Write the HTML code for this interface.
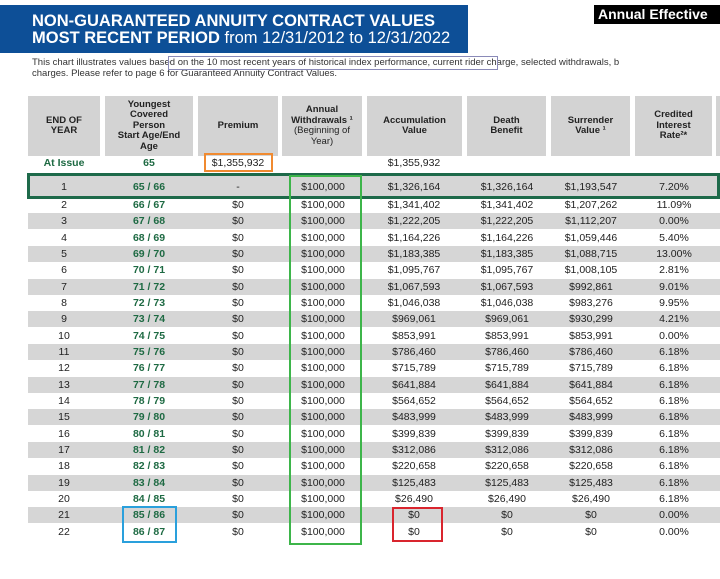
<!DOCTYPE html>
<html><head><style>
body{margin:0;width:720px;height:579px;background:#fff;position:relative;overflow:hidden;font-family:"Liberation Sans",Arial,sans-serif}
.a{position:absolute}
.title{left:0;top:5px;width:468px;height:48px;background:#0d4f97;color:#fff;font-weight:bold;font-size:16.5px;line-height:17px;padding:8px 0 0 32px;box-sizing:border-box;}
.hd{top:96px;height:60px;background:#d3d3d3;font-weight:bold;font-size:9.5px;line-height:10.5px;color:#222;display:flex;align-items:center;justify-content:center;text-align:center}
.row{left:28px;width:692px;height:16px;font-size:10.5px;color:#222}
.row span{position:absolute;top:2px;transform:translateX(-50%);white-space:nowrap}
.g{background:#d6d6d6}
.gr{color:#1e6a43;font-weight:bold}
.box{position:absolute;box-sizing:border-box}
</style></head><body>
<div class="a title">NON-GUARANTEED ANNUITY CONTRACT VALUES<br>MOST RECENT PERIOD <span style="font-weight:normal">from 12/31/2012 to 12/31/2022</span></div>
<div class="a" style="left:594px;top:5px;width:126px;height:19px;background:#000;color:#fff;font-weight:bold;font-size:14px;line-height:19px;padding-left:4px;box-sizing:border-box;white-space:nowrap;overflow:hidden">Annual Effective</div>
<div class="a" style="left:32px;top:57px;font-size:9.5px;color:#333;line-height:11px;white-space:nowrap">This chart illustrates values based on the 10 most recent years of historical index performance, current rider charge, selected withdrawals, b<br>charges. Please refer to page 6 for Guaranteed Annuity Contract Values.</div>
<div class="box" style="left:168px;top:56px;width:330px;height:14px;border:1px solid #8a8ab8"></div>

<div class="a hd" style="left:28px;width:72px"><div>END OF<br>YEAR</div></div>
<div class="a hd" style="left:105px;width:88px"><div>Youngest<br>Covered<br>Person<br>Start Age/End<br>Age</div></div>
<div class="a hd" style="left:198px;width:80px"><div>Premium</div></div>
<div class="a hd" style="left:282px;width:80px"><div>Annual<br>Withdrawals ¹<br><span style="font-weight:normal">(Beginning of<br>Year)</span></div></div>
<div class="a hd" style="left:367px;width:95px"><div>Accumulation<br>Value</div></div>
<div class="a hd" style="left:467px;width:79px"><div>Death<br>Benefit</div></div>
<div class="a hd" style="left:551px;width:79px"><div>Surrender<br>Value ¹</div></div>
<div class="a hd" style="left:635px;width:77px"><div>Credited<br>Interest<br>Rate²*</div></div>
<div class="a hd" style="left:716px;width:10px"></div>

<div class="a row" style="top:155px"><span class="gr" style="left:36px">At Issue</span><span class="gr" style="left:121px">65</span><span style="left:210px">$1,355,932</span><span style="left:386px">$1,355,932</span></div>

<div class="a row g" style="top:175px;height:22px"><span style="left:36px;top:6px">1</span><span class="gr" style="left:121px;top:6px">65 / 66</span><span style="left:210px;top:6px">-</span><span style="left:295px;top:6px">$100,000</span><span style="left:386px;top:6px">$1,326,164</span><span style="left:479px;top:6px">$1,326,164</span><span style="left:563px;top:6px">$1,193,547</span><span style="left:646px;top:6px">7.20%</span></div>
<div class="a row" style="top:197px"><span style="left:36px">2</span><span class="gr" style="left:121px">66 / 67</span><span style="left:210px">$0</span><span style="left:295px">$100,000</span><span style="left:386px">$1,341,402</span><span style="left:479px">$1,341,402</span><span style="left:563px">$1,207,262</span><span style="left:646px">11.09%</span></div>
<div class="a row g" style="top:213px"><span style="left:36px">3</span><span class="gr" style="left:121px">67 / 68</span><span style="left:210px">$0</span><span style="left:295px">$100,000</span><span style="left:386px">$1,222,205</span><span style="left:479px">$1,222,205</span><span style="left:563px">$1,112,207</span><span style="left:646px">0.00%</span></div>
<div class="a row" style="top:230px"><span style="left:36px">4</span><span class="gr" style="left:121px">68 / 69</span><span style="left:210px">$0</span><span style="left:295px">$100,000</span><span style="left:386px">$1,164,226</span><span style="left:479px">$1,164,226</span><span style="left:563px">$1,059,446</span><span style="left:646px">5.40%</span></div>
<div class="a row g" style="top:246px"><span style="left:36px">5</span><span class="gr" style="left:121px">69 / 70</span><span style="left:210px">$0</span><span style="left:295px">$100,000</span><span style="left:386px">$1,183,385</span><span style="left:479px">$1,183,385</span><span style="left:563px">$1,088,715</span><span style="left:646px">13.00%</span></div>
<div class="a row" style="top:262px"><span style="left:36px">6</span><span class="gr" style="left:121px">70 / 71</span><span style="left:210px">$0</span><span style="left:295px">$100,000</span><span style="left:386px">$1,095,767</span><span style="left:479px">$1,095,767</span><span style="left:563px">$1,008,105</span><span style="left:646px">2.81%</span></div>
<div class="a row g" style="top:279px"><span style="left:36px">7</span><span class="gr" style="left:121px">71 / 72</span><span style="left:210px">$0</span><span style="left:295px">$100,000</span><span style="left:386px">$1,067,593</span><span style="left:479px">$1,067,593</span><span style="left:563px">$992,861</span><span style="left:646px">9.01%</span></div>
<div class="a row" style="top:295px"><span style="left:36px">8</span><span class="gr" style="left:121px">72 / 73</span><span style="left:210px">$0</span><span style="left:295px">$100,000</span><span style="left:386px">$1,046,038</span><span style="left:479px">$1,046,038</span><span style="left:563px">$983,276</span><span style="left:646px">9.95%</span></div>
<div class="a row g" style="top:311px"><span style="left:36px">9</span><span class="gr" style="left:121px">73 / 74</span><span style="left:210px">$0</span><span style="left:295px">$100,000</span><span style="left:386px">$969,061</span><span style="left:479px">$969,061</span><span style="left:563px">$930,299</span><span style="left:646px">4.21%</span></div>
<div class="a row" style="top:328px"><span style="left:36px">10</span><span class="gr" style="left:121px">74 / 75</span><span style="left:210px">$0</span><span style="left:295px">$100,000</span><span style="left:386px">$853,991</span><span style="left:479px">$853,991</span><span style="left:563px">$853,991</span><span style="left:646px">0.00%</span></div>
<div class="a row g" style="top:344px"><span style="left:36px">11</span><span class="gr" style="left:121px">75 / 76</span><span style="left:210px">$0</span><span style="left:295px">$100,000</span><span style="left:386px">$786,460</span><span style="left:479px">$786,460</span><span style="left:563px">$786,460</span><span style="left:646px">6.18%</span></div>
<div class="a row" style="top:360px"><span style="left:36px">12</span><span class="gr" style="left:121px">76 / 77</span><span style="left:210px">$0</span><span style="left:295px">$100,000</span><span style="left:386px">$715,789</span><span style="left:479px">$715,789</span><span style="left:563px">$715,789</span><span style="left:646px">6.18%</span></div>
<div class="a row g" style="top:377px"><span style="left:36px">13</span><span class="gr" style="left:121px">77 / 78</span><span style="left:210px">$0</span><span style="left:295px">$100,000</span><span style="left:386px">$641,884</span><span style="left:479px">$641,884</span><span style="left:563px">$641,884</span><span style="left:646px">6.18%</span></div>
<div class="a row" style="top:393px"><span style="left:36px">14</span><span class="gr" style="left:121px">78 / 79</span><span style="left:210px">$0</span><span style="left:295px">$100,000</span><span style="left:386px">$564,652</span><span style="left:479px">$564,652</span><span style="left:563px">$564,652</span><span style="left:646px">6.18%</span></div>
<div class="a row g" style="top:409px"><span style="left:36px">15</span><span class="gr" style="left:121px">79 / 80</span><span style="left:210px">$0</span><span style="left:295px">$100,000</span><span style="left:386px">$483,999</span><span style="left:479px">$483,999</span><span style="left:563px">$483,999</span><span style="left:646px">6.18%</span></div>
<div class="a row" style="top:426px"><span style="left:36px">16</span><span class="gr" style="left:121px">80 / 81</span><span style="left:210px">$0</span><span style="left:295px">$100,000</span><span style="left:386px">$399,839</span><span style="left:479px">$399,839</span><span style="left:563px">$399,839</span><span style="left:646px">6.18%</span></div>
<div class="a row g" style="top:442px"><span style="left:36px">17</span><span class="gr" style="left:121px">81 / 82</span><span style="left:210px">$0</span><span style="left:295px">$100,000</span><span style="left:386px">$312,086</span><span style="left:479px">$312,086</span><span style="left:563px">$312,086</span><span style="left:646px">6.18%</span></div>
<div class="a row" style="top:458px"><span style="left:36px">18</span><span class="gr" style="left:121px">82 / 83</span><span style="left:210px">$0</span><span style="left:295px">$100,000</span><span style="left:386px">$220,658</span><span style="left:479px">$220,658</span><span style="left:563px">$220,658</span><span style="left:646px">6.18%</span></div>
<div class="a row g" style="top:475px"><span style="left:36px">19</span><span class="gr" style="left:121px">83 / 84</span><span style="left:210px">$0</span><span style="left:295px">$100,000</span><span style="left:386px">$125,483</span><span style="left:479px">$125,483</span><span style="left:563px">$125,483</span><span style="left:646px">6.18%</span></div>
<div class="a row" style="top:491px"><span style="left:36px">20</span><span class="gr" style="left:121px">84 / 85</span><span style="left:210px">$0</span><span style="left:295px">$100,000</span><span style="left:386px">$26,490</span><span style="left:479px">$26,490</span><span style="left:563px">$26,490</span><span style="left:646px">6.18%</span></div>
<div class="a row g" style="top:507px"><span style="left:36px">21</span><span class="gr" style="left:121px">85 / 86</span><span style="left:210px">$0</span><span style="left:295px">$100,000</span><span style="left:386px">$0</span><span style="left:479px">$0</span><span style="left:563px">$0</span><span style="left:646px">0.00%</span></div>
<div class="a row" style="top:524px"><span style="left:36px">22</span><span class="gr" style="left:121px">86 / 87</span><span style="left:210px">$0</span><span style="left:295px">$100,000</span><span style="left:386px">$0</span><span style="left:479px">$0</span><span style="left:563px">$0</span><span style="left:646px">0.00%</span></div>

<div class="box" style="left:27px;top:173px;width:693px;height:26px;border:3px solid #1e6a4a"></div>
<div class="box" style="left:289px;top:175px;width:73px;height:370px;border:2.5px solid #3db54a"></div>
<div class="box" style="left:204px;top:153px;width:69px;height:19px;border:2px solid #f08a30"></div>
<div class="box" style="left:122px;top:506px;width:55px;height:37px;border:2px solid #2aa0dc"></div>
<div class="box" style="left:392px;top:507px;width:51px;height:35px;border:2px solid #d9252e"></div>
</body></html>
